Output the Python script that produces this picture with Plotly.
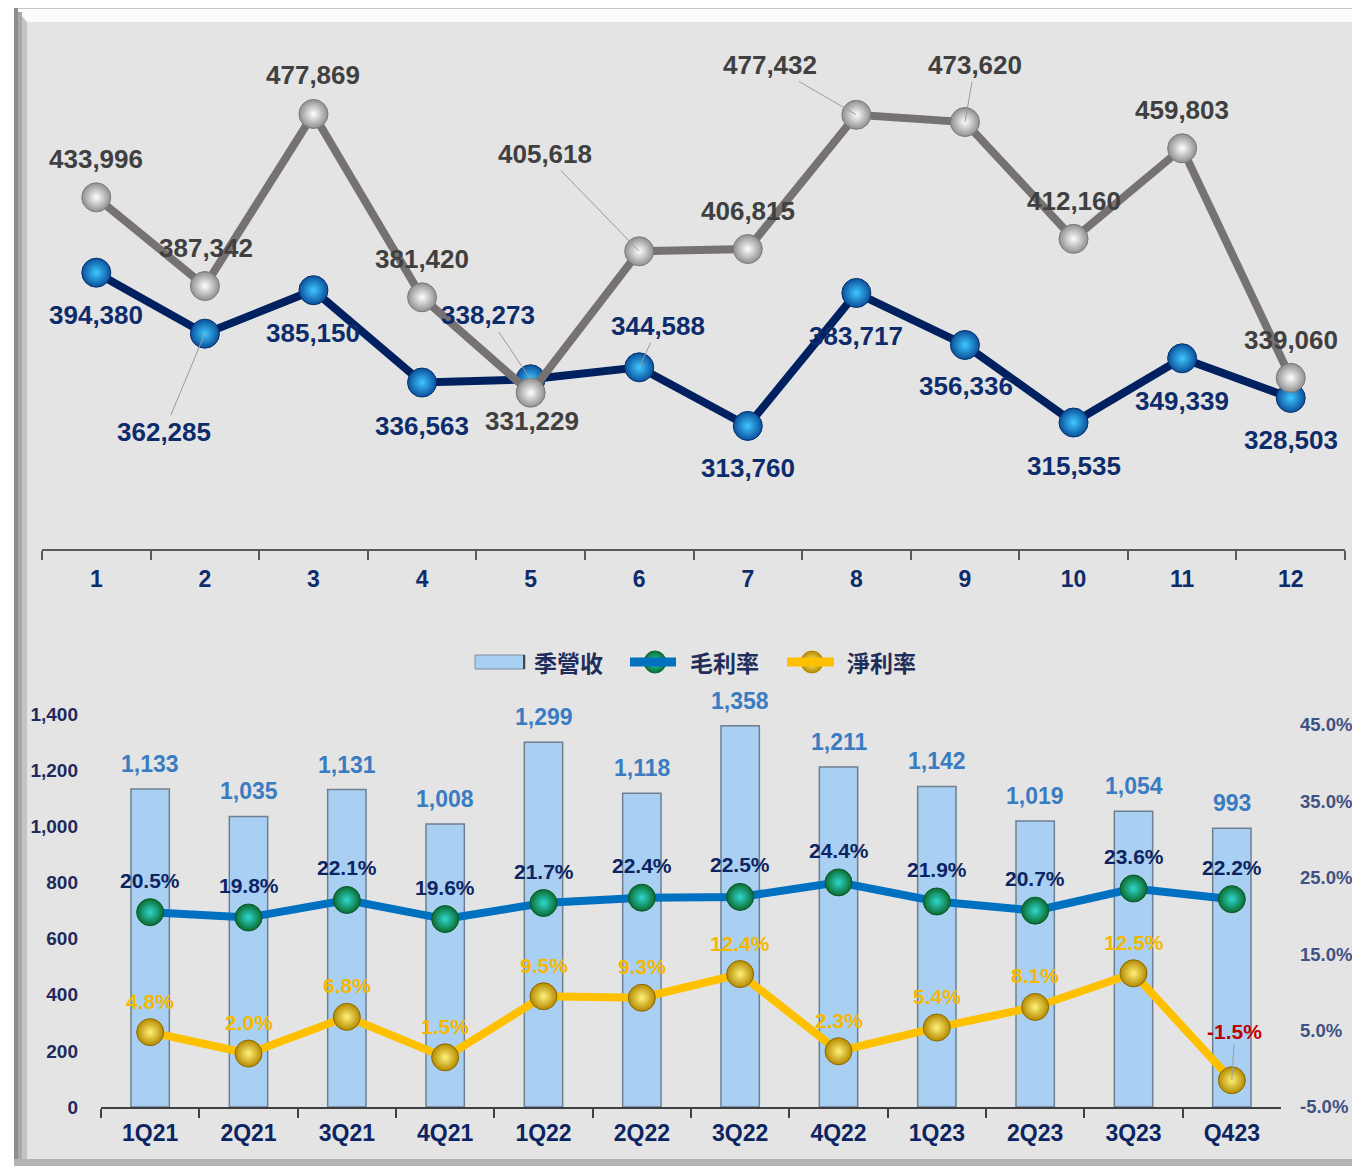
import plotly.graph_objects as go

# page body has an 8px margin: the figure is drawn 8px in and 8px down
OFF = 8
W, H = 1360 - OFF, 1166 - OFF

# ---------------- data ----------------
months = [str(i) for i in range(1, 13)]
series_gray = [433996, 387342, 477869, 381420, 331229, 405618,
               406815, 477432, 473620, 412160, 459803, 339060]
series_navy = [394380, 362285, 385150, 336563, 338273, 344588,
               313760, 383717, 356336, 315535, 349339, 328503]

quarters = ['1Q21', '2Q21', '3Q21', '4Q21', '1Q22', '2Q22',
            '3Q22', '4Q22', '1Q23', '2Q23', '3Q23', 'Q423']
revenue = [1133, 1035, 1131, 1008, 1299, 1118, 1358, 1211, 1142, 1019, 1054, 993]
gross_margin = [20.5, 19.8, 22.1, 19.6, 21.7, 22.4, 22.5, 24.4, 21.9, 20.7, 23.6, 22.2]
net_margin = [4.8, 2.0, 6.8, 1.5, 9.5, 9.3, 12.4, 2.3, 5.4, 8.1, 12.5, -1.5]

legend_names = ['季營收', '毛利率', '淨利率']

# ---------------- label placement (style) ----------------
# (dx, dy, leader) : label centre offset from point in screen px (dy down positive)
gray_lbl = [(0, -38, False), (1, -38, False), (0, -39, False), (0, -38, False),
            (1, 28, False), (-94, -97, True), (0, -38, False), (-86, -50, True),
            (10, -57, True), (0, -38, False), (0, -38, False), (0, -38, False)]
navy_lbl = [(0, 42, False), (-41, 98, True), (0, 43, False), (0, 43, False),
            (-43, -64, True), (19, -41, True), (0, 42, False), (0, 43, False),
            (1, 41, False), (0, 43, False), (0, 43, False), (0, 42, False)]

FONT = 'Liberation Sans, Arial, sans-serif'
CJK = 'Noto Sans CJK TC, Noto Sans CJK SC, sans-serif'


def px(x):
    return (x - OFF) / W


def py(y):
    return 1 - (y - OFF) / H


fig = go.Figure()

# ---------------- top chart ----------------
fig.add_trace(go.Scatter(
    x=months, y=series_navy, mode='lines+markers', xaxis='x', yaxis='y',
    line=dict(color='#002060', width=8),
    marker=dict(size=29, color='#0a4f9c',
                gradient=dict(type='radial', color='#3ec8ff'),
                line=dict(color='#06306a', width=1)),
    showlegend=False, cliponaxis=False, hoverinfo='skip'))
fig.add_trace(go.Scatter(
    x=months, y=series_gray, mode='lines+markers', xaxis='x', yaxis='y',
    line=dict(color='#777272', width=8),
    marker=dict(size=29, color='#8f8f8f',
                gradient=dict(type='radial', color='#ffffff'),
                line=dict(color='#7a7a7a', width=1)),
    showlegend=False, cliponaxis=False, hoverinfo='skip'))

annotations = []
for vals, offs, col in ((series_gray, gray_lbl, '#404040'),
                        (series_navy, navy_lbl, '#0d2c6c')):
    for i, (v, (dx, dy, lead)) in enumerate(zip(vals, offs)):
        a = dict(x=i, y=v, xref='x', yref='y', text=f'{v:,}',
                 font=dict(family=FONT, size=26, color=col, weight='bold'))
        if lead:
            a.update(showarrow=True, ax=dx, ay=dy, arrowhead=0, arrowwidth=1,
                     arrowcolor='#9a9a9a', standoff=0, startstandoff=0)
        else:
            a.update(showarrow=False, xshift=dx, yshift=-dy)
        annotations.append(a)

# ---------------- bottom chart ----------------
fig.add_trace(go.Bar(
    x=quarters, y=revenue, name=legend_names[0], xaxis='x2', yaxis='y2',
    width=0.39, marker=dict(color='#a9cff3', line=dict(color='#6f7f90', width=1.5)),
    showlegend=False, hoverinfo='skip'))
fig.add_trace(go.Scatter(
    x=quarters, y=gross_margin, name=legend_names[1], mode='lines+markers',
    xaxis='x2', yaxis='y3',
    line=dict(color='#0070c0', width=8),
    marker=dict(size=27, color='#0b6b2e',
                gradient=dict(type='radial', color='#2fd8d0'),
                line=dict(color='#0a5a28', width=1)),
    showlegend=False, cliponaxis=False, hoverinfo='skip'))
fig.add_trace(go.Scatter(
    x=quarters, y=net_margin, name=legend_names[2], mode='lines+markers',
    xaxis='x2', yaxis='y3',
    line=dict(color='#ffc000', width=8),
    marker=dict(size=27, color='#b58a00',
                gradient=dict(type='radial', color='#fff27a'),
                line=dict(color='#8a6a00', width=1)),
    showlegend=False, cliponaxis=False, hoverinfo='skip'))

for q, v in zip(quarters, revenue):
    annotations.append(dict(x=q, y=v, xref='x2', yref='y2', text=f'{v:,}',
                            showarrow=False, yshift=25,
                            font=dict(family=FONT, size=23, color='#3a7cc2', weight='bold')))
for q, v in zip(quarters, gross_margin):
    annotations.append(dict(x=q, y=v, xref='x2', yref='y3', text=f'{v:.1f}%',
                            showarrow=False, yshift=32,
                            font=dict(family=FONT, size=21, color='#0d2463', weight='bold')))
for q, v in zip(quarters, net_margin):
    if v < 0:
        annotations.append(dict(x=q, y=v, xref='x2', yref='y3', text=f'{v:.1f}%',
                                showarrow=True, ax=3, ay=-49, arrowhead=0, arrowwidth=1,
                                arrowcolor='#a0a0a0', standoff=0,
                                font=dict(family=FONT, size=21, color='#c00000', weight='bold')))
    else:
        annotations.append(dict(x=q, y=v, xref='x2', yref='y3', text=f'{v:.1f}%',
                                showarrow=False, yshift=31,
                                font=dict(family=FONT, size=21, color='#f5b800', weight='bold')))

# ---------------- custom legend (drawn on a hidden page-pixel axis) ----------------
LEG_Y = 662
leg_line = [(626, 680, 655, '#0070c0', '#0b6b2e', '#2fd8d0'),
            (783, 838, 812, '#ffc000', '#b58a00', '#fff27a')]
leg_text_x = [532, 688, 845]

shapes = []
shapes.append(dict(type='rect', xref='x3', yref='y4', x0=475, x1=525, y0=LEG_Y - 7, y1=LEG_Y + 7,
                   fillcolor='#a9cff3', line=dict(color='#7f8fa0', width=1)))
shapes.append(dict(type='line', xref='x3', yref='y4', x0=524, x1=524, y0=LEG_Y - 7, y1=LEG_Y + 7,
                   line=dict(color='#404850', width=2)))
for x0, x1, xm, lc, mc, gc in leg_line:
    shapes.append(dict(type='line', xref='x3', yref='y4', x0=x0 + 4, x1=x1 - 4, y0=LEG_Y, y1=LEG_Y,
                       line=dict(color=lc, width=9)))
    fig.add_trace(go.Scatter(
        x=[xm], y=[LEG_Y], mode='markers', xaxis='x3', yaxis='y4',
        marker=dict(size=22, color=mc, gradient=dict(type='radial', color=gc),
                    line=dict(color=mc, width=1)),
        showlegend=False, cliponaxis=False, hoverinfo='skip'))
for tx, name in zip(leg_text_x, legend_names):
    annotations.append(dict(x=tx, y=LEG_Y, xref='x3', yref='y4', text=name, showarrow=False,
                            xanchor='left', yanchor='middle',
                            font=dict(family=CJK, size=23, color='#1f2d5a', weight='bold')))

# ---------------- frame shapes ----------------
frame = [
    dict(type='rect', x0=px(14), x1=px(1360), y0=py(7), y1=py(1166),
         fillcolor='#e4e4e4', line=dict(width=0)),
    dict(type='path',
         path=f'M {px(14)},{py(7)} L {px(1360)},{py(7)} L {px(1360)},{py(22)} L {px(27)},{py(22)} Z',
         fillcolor='#fbfbfb', line=dict(width=0)),
    dict(type='line', x0=px(14), x1=px(1360), y0=py(8), y1=py(8),
         line=dict(color='#c6c6c6', width=2)),
    dict(type='path',
         path=f'M {px(14)},{py(7)} L {px(27)},{py(22)} L {px(27)},{py(1166)} L {px(14)},{py(1166)} Z',
         fillcolor='#c4c4c4', line=dict(width=0)),
    dict(type='rect', x0=px(14), x1=px(18), y0=py(8), y1=py(1166),
         fillcolor='#8e8e8e', line=dict(width=0)),
    dict(type='rect', x0=px(18), x1=px(22), y0=py(12), y1=py(1166),
         fillcolor='#a9a9a9', line=dict(width=0)),
    dict(type='rect', x0=px(14), x1=px(1360), y0=py(1159), y1=py(1166),
         fillcolor='#b2b2b2', line=dict(width=0)),
]
for s in frame:
    s.update(xref='paper', yref='paper', layer='below')
shapes = frame + shapes

tick_font_top = dict(family=FONT, size=23, color='#0d2c6c', weight='bold')

fig.update_layout(
    width=W, height=H, autosize=False,
    margin=dict(l=0, r=0, t=0, b=0, autoexpand=False),
    paper_bgcolor='white', plot_bgcolor='rgba(0,0,0,0)',
    barmode='overlay', showlegend=False,
    xaxis=dict(domain=[px(42), px(1345)], anchor='y', type='category',
               range=[-0.5, 11.5], tickson='boundaries', ticks='outside',
               ticklen=9, tickwidth=2, tickcolor='#595959',
               showline=True, linecolor='#595959', linewidth=2,
               showgrid=False, zeroline=False, tickfont=tick_font_top,
               ticklabelstandoff=8, automargin=False, fixedrange=True),
    yaxis=dict(domain=[py(549), py(20)], anchor='x', range=[249000, 527300],
               showticklabels=False, showgrid=False, zeroline=False,
               showline=False, ticks='', automargin=False, fixedrange=True),
    xaxis2=dict(domain=[px(101), px(1281)], anchor='y2', type='category',
                range=[-0.5, 11.5], tickson='boundaries', ticks='outside',
                ticklen=9, tickwidth=2, tickcolor='#404040',
                showline=True, linecolor='#404040', linewidth=2,
                showgrid=False, zeroline=False,
                tickfont=dict(family=FONT, size=23, color='#0d2463', weight='bold'),
                ticklabelstandoff=4, automargin=False, fixedrange=True),
    yaxis2=dict(domain=[py(1107), py(714)], anchor='x2', range=[0, 1400],
                tickvals=[0, 200, 400, 600, 800, 1000, 1200, 1400], tickformat=',',
                showgrid=False, zeroline=False, showline=False, ticks='',
                ticklabelstandoff=22, automargin=False,
                tickfont=dict(family=FONT, size=19, color='#1f2a5c', weight='bold'),
                fixedrange=True),
    yaxis3=dict(overlaying='y2', side='right', anchor='x2', range=[-5, 46.44],
                tickvals=[-5, 5, 15, 25, 35, 45],
                ticktext=[f'{t:.1f}%' for t in [-5, 5, 15, 25, 35, 45]],
                showgrid=False, zeroline=False, showline=False, ticks='',
                ticklabelstandoff=18, automargin=False,
                tickfont=dict(family=FONT, size=18.5, color='#3f5382', weight='bold'),
                fixedrange=True),
    # hidden page-pixel axes used only for the hand-drawn legend
    xaxis3=dict(domain=[0, 1], range=[OFF, 1360], visible=False, anchor='y4',
                automargin=False, fixedrange=True),
    yaxis4=dict(domain=[0, 1], range=[1166, OFF], visible=False, anchor='x3',
                automargin=False, fixedrange=True),
    annotations=annotations,
    shapes=shapes,
)

fig.write_html('out.html')
